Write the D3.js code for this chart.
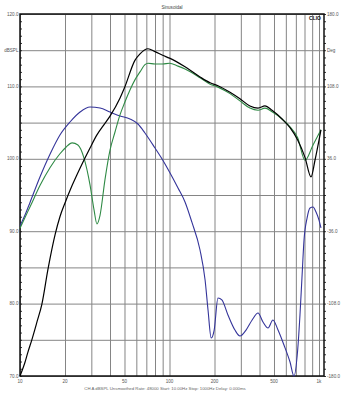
<!DOCTYPE html>
<html>
<head>
<meta charset="utf-8">
<script src="https://cdn.jsdelivr.net/npm/d3@7"></script>
<style>
  body { margin: 0; background: #fff; }
  text { font-family: "Liberation Sans", Arial, sans-serif; }
</style>
</head>
<body>
<div id="chart"></div>
<script>
// data: [frequency Hz, value]
const splBlack = [
  [10,70.0],[10.8,71.9],[11.3,73.3],[12.0,75.0],[13.0,77.5],[14.0,79.9],[15.4,84.8],
  [17.2,89.6],[18.5,92.0],[20,93.9],[22.3,96.3],[25.2,98.7],[29.4,101.5],[32.7,103.3],
  [37,104.9],[40,105.9],[46.7,108.4],[50,109.8],[58.7,113.6],[63.5,114.5],[71.8,115.2],
  [80,114.8],[90,114.3],[100,113.9],[127,112.7],[160,111.3],[187,110.5],[211,110.1],
  [254,109.2],[296,108.3],[345,107.3],[391,107.0],[435,107.3],[485,106.7],[566,105.5],
  [640,104.3],[720,102.6],[806,100.2],[884,97.5],[940,99.8],[1031,104.0]
];
const splGreen = [
  [10,90.4],[10.8,91.9],[11.7,93.4],[13.6,96.3],[15.9,98.8],[18.5,100.7],[20.3,101.6],
  [22.3,102.2],[24.4,101.9],[26.8,100.1],[29.4,96.4],[31.3,92.9],[32.7,91.0],[34.3,92.2],
  [37,97.1],[40,101.2],[43.2,103.7],[46.7,106.1],[50,107.7],[54.4,109.5],[58.7,110.9],
  [63.5,112.0],[68.5,113.0],[71.8,113.2],[80,113.1],[90,113.1],[100,113.2],[114,112.8],
  [127,112.4],[160,111.2],[187,110.3],[211,109.9],[254,109.0],[296,108.0],[345,107.0],
  [391,106.7],[435,107.0],[485,106.5],[566,105.5],[640,104.4],[720,102.9],[806,99.8],
  [912,101.9],[1031,104.0]
];
const phaseBlue = [
  [10,-30.8],[10.8,-19.9],[11.7,-6.9],[13.6,17.9],[15.9,40.8],[18.5,59.7],[21.6,72.6],
  [25.2,82.5],[29.4,87.5],[34.3,86.5],[40,82.5],[46.7,78.6],[54.4,75.6],[61.5,70.6],
  [68.5,61.7],[80,46.7],[90,34.8],[100,22.9],[114,7.0],[127,-6.9],[141,-26.8],[160,-54.7],
  [173,-84.5],[181,-114.4],[190,-142.2],[199,-134.3],[211,-102.4],[224,-104.4],
  [246,-119.3],[274,-134.3],[296,-140.2],[325,-134.3],[357,-124.3],[391,-117.4],
  [422,-126.3],[456,-132.3],[492,-124.3],[532,-134.3],[583,-149.2],[640,-166.1],
  [680,-180],[720,-154.1],[746,-119.3],[769,-82.5],[794,-44.8],[832,-22.9],[871,-12.9],
  [912,-11.9],[955,-16.9],[1000,-24.9],[1031,-32.8]
];

const freqTicks = [10,20,30,40,50,60,70,80,90,100,200,300,400,500,600,700,800,900,1000];
const freqLabels = [[10,"10"],[20,"20"],[50,"50"],[100,"100"],[200,"200"],[500,"500"],[1000,"1k"]];
const splLabels = [[120,"120.0"],[115,"dBSPL"],[110,"110.0"],[100,"100.0"],[90,"90.0"],[80,"80.0"],[70,"70.0"]];
const degLabels = [[180,"180.0"],[144,"Deg"],[108,"108.0"],[36,"36.0"],[-36,"-36.0"],[-108,"-108.0"],[-180,"-180.0"]];

const width = 342, height = 393;
const pLeft = 20, pRight = 324, pTop = 14, pBottom = 376;

const svg = d3.select("#chart").append("svg")
  .attr("width", width)
  .attr("height", height);

const x = d3.scaleLog().domain([10, 1080]).range([pLeft, pRight]);
const y = d3.scaleLinear().domain([70, 120]).range([pBottom, pTop]);
const yPh = d3.scaleLinear().domain([-180, 180]).range([pBottom, pTop]);

// grid
svg.append("g")
  .attr("transform", `translate(0,${pTop})`)
  .call(d3.axisBottom(x).tickValues(freqTicks).tickSize(pBottom - pTop).tickFormat(""))
  .call(g => g.select(".domain").remove())
  .selectAll("line").attr("stroke", "#858585");

svg.append("g")
  .attr("transform", `translate(${pLeft},0)`)
  .call(d3.axisRight(y).tickValues(d3.range(70, 121, 5)).tickSize(pRight - pLeft).tickFormat(""))
  .call(g => g.select(".domain").remove())
  .selectAll("line").attr("stroke", "#858585");

// minor ticks left and right
svg.append("g")
  .attr("transform", `translate(${pLeft},0)`)
  .call(d3.axisRight(y).tickValues(d3.range(70, 121, 1)).tickSize(2).tickFormat(""))
  .call(g => g.select(".domain").remove())
  .selectAll("line").attr("stroke", "#333");

svg.append("g")
  .attr("transform", `translate(${pRight},0)`)
  .call(d3.axisRight(yPh).tickValues(d3.range(-180, 181, 7.2)).tickSize(2).tickFormat(""))
  .call(g => g.select(".domain").remove())
  .selectAll("line").attr("stroke", "#333");

// frame
svg.append("rect")
  .attr("x", pLeft).attr("y", pTop)
  .attr("width", pRight - pLeft).attr("height", pBottom - pTop)
  .attr("fill", "none").attr("stroke", "#111").attr("stroke-width", 1.5);

// curves
const lineSpl = d3.line().x(d => x(d[0])).y(d => y(d[1])).curve(d3.curveMonotoneX);
const linePh = d3.line().x(d => x(d[0])).y(d => yPh(d[1])).curve(d3.curveMonotoneX);

svg.append("path").datum(phaseBlue)
  .attr("d", linePh).attr("fill", "none").attr("stroke", "#34349a").attr("stroke-width", 1.1);
svg.append("path").datum(splGreen)
  .attr("d", lineSpl).attr("fill", "none").attr("stroke", "#2f8a45").attr("stroke-width", 1.1);
svg.append("path").datum(splBlack)
  .attr("d", lineSpl).attr("fill", "none").attr("stroke", "#000").attr("stroke-width", 1.2);

// labels
const lab = svg.append("g").attr("font-size", 4.6).attr("fill", "#555");

lab.selectAll(".yl").data(splLabels).join("text")
  .attr("x", pLeft - 1.5).attr("y", d => y(d[0]) + 1.6)
  .attr("text-anchor", "end").text(d => d[1]);

lab.selectAll(".yr").data(degLabels).join("text")
  .attr("x", pRight + 3).attr("y", d => yPh(d[0]) + 1.6)
  .text(d => d[1]);

lab.selectAll(".xl").data(freqLabels).join("text")
  .attr("x", d => x(d[0])).attr("y", pBottom + 7)
  .attr("text-anchor", "middle").text(d => d[1]);

svg.append("text")
  .attr("x", 172).attr("y", 8.5)
  .attr("text-anchor", "middle").attr("font-size", 4.6).attr("fill", "#444")
  .text("Sinusoidal");

svg.append("text")
  .attr("x", 321).attr("y", 19.5)
  .attr("text-anchor", "end").attr("font-size", 5).attr("font-weight", "bold").attr("fill", "#111")
  .text("CLIO");

svg.append("text")
  .attr("x", 165).attr("y", 390)
  .attr("text-anchor", "middle").attr("font-size", 4.3).attr("fill", "#666")
  .text("CH A    dBSPL    Unsmoothed    Rate: 48000    Start: 10.00Hz    Stop: 1000Hz    Delay: 0.000ms");
</script>
</body>
</html>
